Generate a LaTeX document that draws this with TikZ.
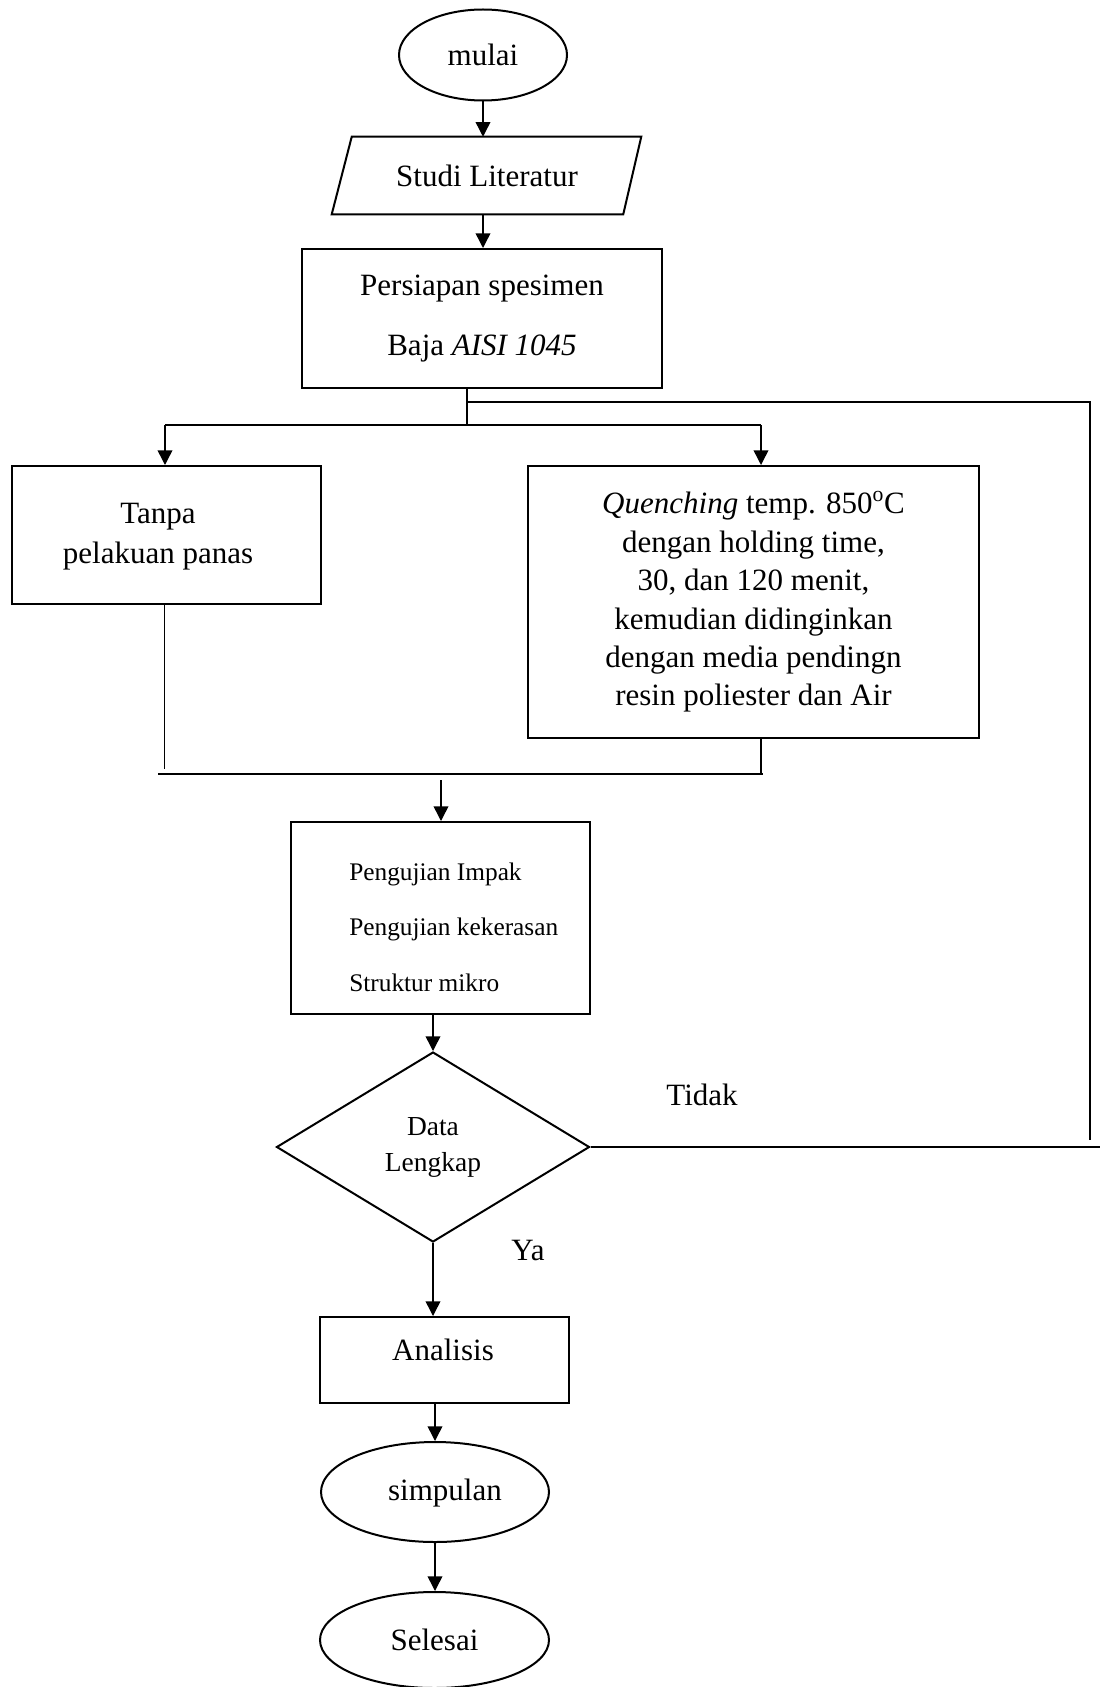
\documentclass[tikz,border=0pt]{standalone}
\usepackage{fontspec}
\setmainfont{Liberation Serif}
\usetikzlibrary{shapes.geometric,arrows.meta,calc}
\begin{document}
\begin{tikzpicture}[x=0.75pt,y=-0.75pt,
  box/.style={draw, line width=1.5pt, rectangle, inner sep=0pt},
  term/.style={draw, line width=1.5pt, ellipse, inner sep=0pt},
  conn/.style={line width=1.1pt},
  thickconn/.style={line width=1.5pt},
  thinline/.style={line width=0.75pt},
  arr/.style={line width=1.1pt, -{Triangle[length=11pt,width=11pt]}},
  txt/.style={font=\fontsize{23.25}{28.8}\selectfont},
  small/.style={font=\fontsize{19}{41.6}\selectfont},
]
\useasboundingbox (0,0) rectangle (1100,1687);

% nodes
\node[term, txt, minimum width=126pt, minimum height=68.25pt] (mulai) at (483,55) {mulai};
\node[inner sep=0pt, minimum width=217.5pt, minimum height=57.75pt, txt] (lit) at (487,175.5) {Studi Literatur};
\draw[line width=1.5pt] ($(lit.north west)+(10,0)$) -- ($(lit.north east)+(9,0)$)
   -- ($(lit.south east)+(-9,0)$) -- ($(lit.south west)+(-10,0)$) -- cycle;
\node[box, minimum width=270pt, minimum height=104.25pt, align=center,
      font=\fontsize{23.25}{45}\selectfont] (pers) at (482,318.5)
      {Persiapan spesimen\\Baja \textit{AISI 1045}};
\node[box, minimum width=231.75pt, minimum height=103.5pt] (tanpa) at (166.5,535) {};
\node[txt, align=center, inner sep=0pt, font=\fontsize{23.25}{30}\selectfont] (tanpatxt) at (158,537) {Tanpa\\pelakuan panas};
\node[box, minimum width=338.25pt, minimum height=204pt, align=center, txt] (quench) at (753.5,602)
  {\textit{Quenching} temp. 850\textsuperscript{o}C\\dengan holding time,\\30, dan 120 menit,\\kemudian didinginkan\\dengan media pendingn\\resin poliester dan Air};
\node[box, minimum width=224.25pt, minimum height=144pt] (peng) at (440.5,918) {};
\node[small, align=left, anchor=west, inner sep=0pt] (pengtxt) at (349,927)
  {Pengujian Impak\\Pengujian kekerasan\\Struktur mikro};
\node[draw, line width=1.5pt, diamond, inner sep=0pt, minimum width=234.75pt, minimum height=142.5pt,
      align=center, font=\fontsize{20.6}{27}\selectfont] (dia) at (433,1147) {Data\\Lengkap};
\node[box, minimum width=186.75pt, minimum height=64.5pt] (ana) at (444.5,1360) {};
\node[txt, inner sep=0pt] (anatxt) at (443,1350) {Analisis};
\node[term, minimum width=171pt, minimum height=75pt] (simp) at (435,1492) {};
\node[txt, inner sep=0pt] (simptxt) at (445,1493) {simpulan};
\node[term, txt, minimum width=171.75pt, minimum height=72pt] (sel) at (434.5,1640) {Selesai};
\node[txt, inner sep=0pt] (tidak) at (702,1095) {Tidak};
\node[txt, inner sep=0pt] (ya) at (528,1250) {Ya};

% coordinates
\coordinate (split) at (467,425);
\coordinate (br) at (467,402);
\coordinate (rt) at (1090,402);
\coordinate (rb) at (1090,1140);
\coordinate (re) at (1100,1143);
\coordinate (jl) at (165,425);
\coordinate (jr) at (761,425);
\coordinate (tl) at (164,769);
\coordinate (qb) at (761,775);
\coordinate (hl) at (158,774);
\coordinate (hr) at (763,774);
\coordinate (mg) at (441,780);

% connectors
\draw[arr] (mulai.south) -- (mulai.south |- lit.north);
\draw[arr] (lit.south -| mulai.south) -- (mulai.south |- pers.north);
\draw[conn] (split |- pers.south) -- (split);
\draw[conn] (jl) -- (jr);
\draw[arr] (jl) -- (jl |- tanpa.north);
\draw[arr] (jr) -- (jr |- quench.north);
\draw[conn] (br) -- (rt) -- (rb);
\draw[thinline] (tl |- tanpa.south) -- (tl);
\draw[conn] (qb |- quench.south) -- (qb);
\draw[conn] (hl) -- (hr);
\draw[arr] (mg) -- (mg |- peng.north);
\draw[arr] (peng.south -| dia.north) -- (dia.north);
\draw[thickconn] (dia.east) -- (dia.east -| re);
\draw[arr] (dia.south) -- (dia.south |- ana.north);
\draw[arr] (ana.south -| simp.north) -- (simp.north);
\draw[arr] (simp.south) -- (simp.south |- sel.north);
\end{tikzpicture}
\end{document}
